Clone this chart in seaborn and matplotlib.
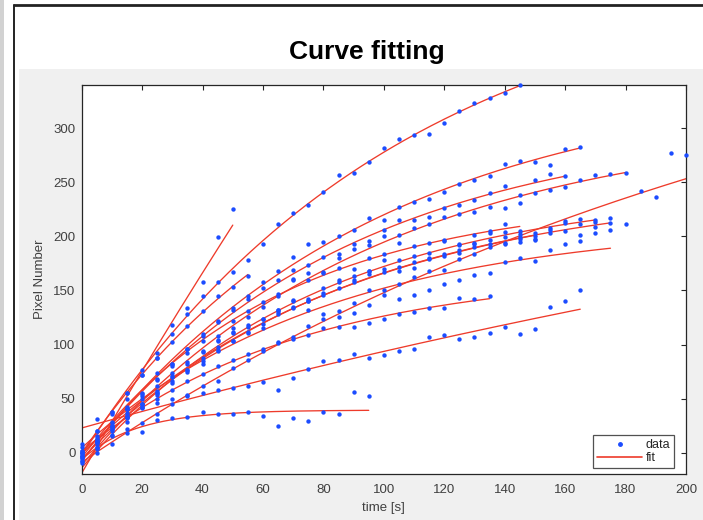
import numpy as np
import pandas as pd
import matplotlib
matplotlib.use("Agg")
import matplotlib.pyplot as plt
from matplotlib.patches import Rectangle
from matplotlib.lines import Line2D
import seaborn as sns

# ---------------- data (sampled every 5 s, starting at t = 0) ----------------
A_y = [2, 20, 38, 55, 76, 92, 110, 128, 145, 158, 167, 178, 193, 211, 222, 229, 241, 257, 259, 269,
       282, 290, 294, 295, 305, 316, 323, 328, 333, 340]
S_y = [-3, 4, 27, 50, 72, 88, 118, 134, 158, 199, 225]
T_y = [0, 20, 38, 55, 72, 88, 102, 117, 131, 145, 153, 163]
B_y = [0, 12, 25, 40, 54, 68, 82, 96, 110, 122, 134, 145, 158, 168, 181, 193, 195, 200, 206, 217,
       215, 227, 232, 235, 241, 248, 252, 256, 267, 270, 269, 266, 281, 283]
C_y = [-3, 10, 25, 40, 52, 67, 82, 96, 108, 121, 132, 142, 152, 160, 169, 174, 181, 184, 193, 196,
       206, 215, 215, 218, 226, 229, 234, 240, 247, 238, 252, 258, 256]
D_y = [-5, 8, 20, 33, 45, 57, 70, 82, 93, 104, 115, 125, 135, 145, 160, 166, 167, 180, 188, 192,
       200, 201, 208, 211, 218, 221, 223, 227, 226, 231, 240, 243, 246, 252, 257, 258, 259]
M_y = [0, 14, 28, 42, 55, 74, 80, 92, 103, 108, 122, 131, 139, 147, 161, 160, 166, 171, 170, 180,
       184, 194, 191, 194, 196, 193, 201, 203, 211, 205]
I_y = [-8, 3, 16, 28, 42, 53, 64, 76, 88, 98, 112, 116, 124, 132, 140, 140, 152, 158, 163, 168,
       178, 178, 182, 185, 197, 192, 194, 205, 199, 202, 198, 206, 214, 211, 213]
J_y = [-3, 10, 22, 33, 45, 55, 66, 76, 82, 95, 103, 111, 119, 132, 134, 140, 146, 152, 158, 168,
       167, 172, 171, 180, 184, 187, 190, 193, 204, 198, 200, 203, 205, 201, 209, 212]
K_y = [5, 15, 25, 35, 45, 55, 71, 75, 85, 94, 103, 112, 115, 128, 135, 142, 148, 160, 160, 165,
       170, 168, 176, 179, 182, 185, 193, 190, 193, 195, 197]
E_y = [-10, 0, 8, 18, 27, 36, 45, 53, 62, 66, 78, 86, 94, 102, 105, 117, 124, 131, 138, 150,
       150, 156, 162, 168, 169, 179, 184, 197, 194, 199, 203, 208, 212, 216, 215, 217, 211, 242, 236, 277,
       275]
F_y = [-5, 10, 24, 37, 50, 62, 74, 84, 94, 103, 111, 118, 124, 130, 141, 132, 128, 125, 129, 137,
       146, 142, 146, 150, 156, 160, 164, 166, 176, 180, 177, 187, 193, 196, 203, 206]
G_y = [2, 12, 22, 32, 41, 50, 58, 66, 73, 80, 86, 91, 96, 101, 107, 109, 115, 116, 116, 120,
       124, 128, 130, 134, 134, 143, 142, 145]
H_y = [8, 31, 36, 40, 42, 46, 50, 52, 55, 58, 60, 62, 65, 58, 69, 77, 85, 86, 91, 88,
       90, 94, 96, 107, 109, 105, 107, 111, 116, 110, 114, 135, 140, 150]
L_y = [-8, 5, 15, 22, 19, 30, 32, 33, 38, 36, 36, 38, 34, 25, 32, 29, 38, 36, 56, 52]

series = {"A": A_y, "S": S_y, "T": T_y, "B": B_y, "C": C_y, "D": D_y, "M": M_y, "I": I_y,
          "J": J_y, "K": K_y, "E": E_y, "F": F_y, "G": G_y, "H": H_y, "L": L_y}
SAMPLE_STEP = 5.0

title_text = "Curve fitting"
xlabel_text = "time [s]"
ylabel_text = "Pixel Number"
xticks = [0, 20, 40, 60, 80, 100, 120, 140, 160, 180, 200]
yticks = [0, 50, 100, 150, 200, 250, 300]

# ---------------- fitting: y = c + a*(1 - exp(-b t)) ----------------
def fit_saturating(t, y):
    best = None
    for b in np.linspace(0.002, 0.12, 300):
        X = np.column_stack([np.ones_like(t), 1.0 - np.exp(-b * t)])
        coef, *_ = np.linalg.lstsq(X, y, rcond=None)
        r = np.sum((X @ coef - y) ** 2)
        if best is None or r < best[0]:
            best = (r, b, coef)
    return best[1], best[2]

pts_rows, fit_rows = [], []
for name, vals in series.items():
    y = np.asarray(vals, dtype=float)
    t = SAMPLE_STEP * np.arange(len(y))
    for ti, yi in zip(t, y):
        pts_rows.append((name, ti, yi))
    b, (c, a) = fit_saturating(t, y)
    tt = np.linspace(0, t[-1], 200)
    for ti in tt:
        fit_rows.append((name, ti, c + a * (1 - np.exp(-b * ti))))

pts = pd.DataFrame(pts_rows, columns=["series", "t", "y"])
fits = pd.DataFrame(fit_rows, columns=["series", "t", "y"])

# ---------------- figure ----------------
sns.set_theme(style="white")
plt.rcParams["font.family"] = ["Liberation Sans", "DejaVu Sans"]

W, H = 703, 520
fig = plt.figure(figsize=(W / 100, H / 100), dpi=100)
fig.patch.set_facecolor("white")

def fx(x):
    return x / W

def fy(y):
    return 1 - y / H

# page decorations (drawn behind the axes)
fig.patches.append(Rectangle((fx(19), 0), 1 - fx(19), fy(69), transform=fig.transFigure,
                             facecolor="#f0f0f0", edgecolor="none", zorder=-10))
fig.patches.append(Rectangle((0, 0), fx(3.5), 1, transform=fig.transFigure,
                             facecolor="#d2d2d2", edgecolor="none", zorder=-10))
fig.add_artist(Line2D([fx(14), fx(14)], [0, fy(5)], transform=fig.transFigure,
                      color="#222222", lw=1.4, zorder=-5))
fig.add_artist(Line2D([fx(14), 1], [fy(5), fy(5)], transform=fig.transFigure,
                      color="#222222", lw=2.0, zorder=-5))

ax_left, ax_right, ax_top, ax_bottom = 81.7, 686, 85, 474.3
ax = fig.add_axes([fx(ax_left), fy(ax_bottom), (ax_right - ax_left) / W, (ax_bottom - ax_top) / H])
ax.set_zorder(1)
ax.set_facecolor("white")

RED = "#ee3b2b"
BLUE = "#1c4cff"

sns.lineplot(data=fits, x="t", y="y", units="series", estimator=None, color=RED,
             lw=0.95, ax=ax, legend=False, zorder=2)
sns.scatterplot(data=pts, x="t", y="y", color=BLUE, s=10, linewidth=0, ax=ax,
                legend=False, zorder=3, clip_on=False)

ax.set_xlim(0, 200)
ax.set_ylim(-20, 340)
ax.set_xticks(xticks)
ax.set_yticks(yticks)
ax.tick_params(direction="in", length=3.6, width=0.8, top=True, right=True,
               labelsize=9.5, labelcolor="#404040", color="#262626")
ax.tick_params(axis="y", pad=4.5)
ax.tick_params(axis="x", pad=7)
for sp in ax.spines.values():
    sp.set_visible(True)
    sp.set_color("#262626")
    sp.set_linewidth(0.9)

ax.set_xlabel(xlabel_text, fontsize=9.5, color="#404040")
ax.set_ylabel(ylabel_text, fontsize=9.5, color="#404040")
ax.xaxis.set_label_coords(0.5, (ax_bottom - 502) / (ax_bottom - ax_top))
ax.yaxis.set_label_coords((46 - ax_left) / (ax_right - ax_left), 0.5)

fig.text(fx(367), fy(59.5), title_text, fontsize=19, fontweight="bold",
         ha="center", va="baseline", color="black")

handles = [Line2D([], [], marker=".", ls="", color=BLUE, markersize=5, label="data"),
           Line2D([], [], color=RED, lw=1.2, label="fit")]
leg = ax.legend(handles=handles, loc="lower right",
                bbox_to_anchor=((674.3 - ax_left) / (ax_right - ax_left),
                                (ax_bottom - 468) / (ax_bottom - ax_top)),
                borderaxespad=0, fontsize=9, frameon=True, fancybox=False,
                handlelength=3.6, handletextpad=0.3, borderpad=0.3, labelspacing=0.1)
leg.get_frame().set_edgecolor("#262626")
leg.get_frame().set_linewidth(0.9)

fig.savefig("out.png", dpi=100, facecolor=fig.get_facecolor())
